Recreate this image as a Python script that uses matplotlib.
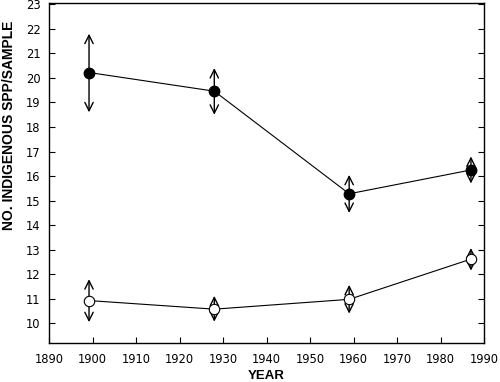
import matplotlib.pyplot as plt

plt.rcParams["font.family"] = ["Liberation Sans", "DejaVu Sans"]

years = [1899.2, 1928, 1959, 1987]

filled_mean = [20.22, 19.46, 15.28, 16.25]
filled_low = [18.6, 18.5, 14.5, 15.7]
filled_high = [21.8, 20.4, 16.05, 16.8]

open_mean = [10.93, 10.58, 10.98, 12.62]
open_low = [10.05, 10.07, 10.4, 12.15]
open_high = [11.8, 11.12, 11.57, 13.07]

x_ticks = list(range(1890, 1991, 10))
y_ticks = list(range(10, 24))

fig = plt.figure(figsize=(5.0, 3.82), dpi=100)
ax = fig.add_axes([0.098, 0.102, 0.87, 0.89])


def draw_arrows(ax, xs, mean, low, high):
    for x, m, lo, hi in zip(xs, mean, low, high):
        for end in (lo, hi):
            ax.annotate("", xy=(x, end), xytext=(x, m),
                        arrowprops=dict(arrowstyle="->,head_length=0.6,head_width=0.3",
                                        color="black", lw=1.0, shrinkA=0, shrinkB=0),
                        zorder=2)


draw_arrows(ax, years, filled_mean, filled_low, filled_high)
draw_arrows(ax, years, open_mean, open_low, open_high)

ax.plot(years, filled_mean, color="black", lw=0.8, marker="o", markersize=7.5,
        markerfacecolor="black", markeredgecolor="black", zorder=3)
ax.plot(years, open_mean, color="black", lw=0.8, marker="o", markersize=7.5,
        markerfacecolor="white", markeredgecolor="black", markeredgewidth=0.8, zorder=3)

ax.set_xlim(1890, 1990)
ax.set_ylim(9.2, 23.05)
ax.set_xticks(x_ticks)
ax.set_yticks(y_ticks)
ax.tick_params(direction="in", length=4, width=0.8, right=True, top=False)
ax.tick_params(axis="x", pad=7)
ax.tick_params(axis="y", pad=6)
for lab in ax.get_xticklabels() + ax.get_yticklabels():
    lab.set_fontfamily("DejaVu Sans")
    lab.set_fontsize(8.3)
for spine in ax.spines.values():
    spine.set_linewidth(1.0)

ax.set_xlabel("YEAR", fontsize=9.5, fontweight="bold", labelpad=3)
ax.set_ylabel("NO. INDIGENOUS SPP/SAMPLE", fontsize=10, fontweight="bold")
ax.yaxis.set_label_coords(-0.077, 0.64)

fig.savefig("out.png", dpi=100)
plt.close(fig)
